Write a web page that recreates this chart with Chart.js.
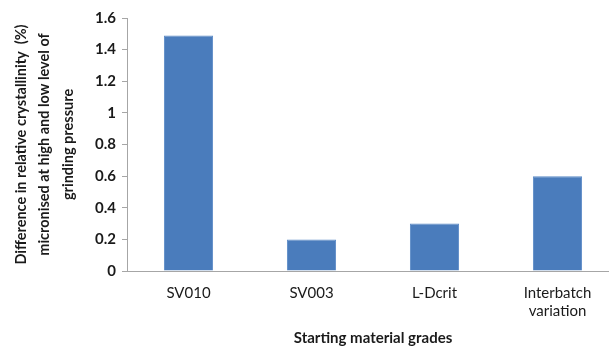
<!DOCTYPE html>
<html>
<head>
<meta charset="utf-8">
<script src="https://cdn.jsdelivr.net/npm/chart.js@4"></script>
<style>
  html, body { margin: 0; padding: 0; background: #fff; overflow: hidden; }
  /* the plot runs a little past the right edge of the visible frame */
  #wrap { width: 609px; height: 351px; overflow: hidden; }
</style>
</head>
<body>
<div id="wrap"><canvas id="chart" width="619" height="351"></canvas></div>
<script>
// Starting material grades and the crystallinity difference for each
const categories = ["SV010", ["SV003"], "L-Dcrit", ["Interbatch", "variation"]];
const values = [1.49, 0.2, 0.3, 0.6];
const yTicks = [0, 0.2, 0.4, 0.6, 0.8, 1, 1.2, 1.4, 1.6];

const axisGrey = "#a6a6a6";
const textDark = "#1a1a1a";
const fontFamily = "Lato, 'Open Sans', 'DejaVu Sans', sans-serif";

new Chart(document.getElementById("chart"), {
  type: "bar",
  data: {
    labels: categories,
    datasets: [{
      data: values,
      backgroundColor: "#4a7cbc",
      borderColor: "#5b8ac6",
      borderWidth: 1,
      categoryPercentage: 1.0,
      barPercentage: 0.4
    }]
  },
  options: {
    responsive: false,
    animation: false,
    layout: { padding: { top: 18, right: 0, bottom: 0, left: 10 } },
    plugins: { legend: { display: false }, tooltip: { enabled: false } },
    scales: {
      x: {
        grid: { display: false },
        border: { display: true, color: axisGrey, width: 1 },
        ticks: {
          color: textDark,
          font: { family: fontFamily, size: 15 },
          padding: 5,
          maxRotation: 0
        },
        title: {
          display: true,
          text: "Starting material grades",
          color: textDark,
          font: { family: fontFamily, size: 15, weight: "bold" },
          padding: { top: 0, bottom: 4 }
        },
        afterFit(scale) { scale.height = 80; }
      },
      y: {
        min: 0,
        max: 1.6,
        afterBuildTicks(scale) { scale.ticks = yTicks.map(v => ({ value: v })); },
        grid: {
          display: true,
          drawOnChartArea: false,
          drawTicks: true,
          tickLength: 5,
          color: axisGrey
        },
        border: { display: true, color: axisGrey, width: 1 },
        ticks: {
          color: textDark,
          font: { family: fontFamily, size: 15, weight: "bold" },
          padding: 6,
          callback: v => String(v)
        },
        title: {
          display: true,
          text: [
            "Difference in relative crystallinity  (%)",
            "micronised at high and low level of",
            "grinding pressure"
          ],
          color: textDark,
          font: { family: fontFamily, size: 14.5, weight: "bold", lineHeight: 1.6 },
          padding: { top: 0, bottom: 0 }
        },
        afterFit(scale) { scale.width = 117; }
      }
    }
  }
});
</script>
</body>
</html>
